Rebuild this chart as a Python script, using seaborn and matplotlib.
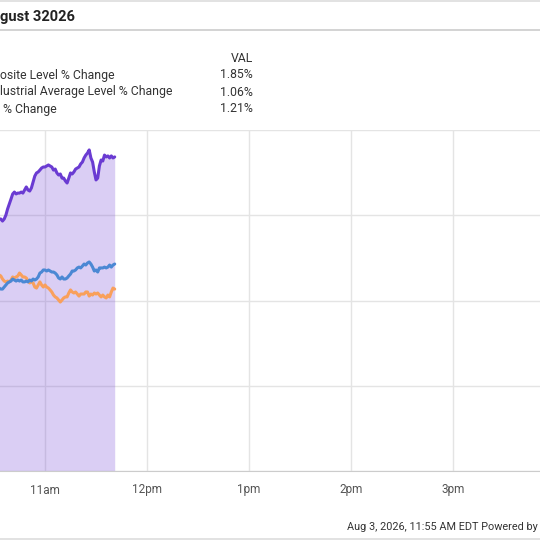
import pandas as pd
import seaborn as sns
import matplotlib.pyplot as plt
from matplotlib.lines import Line2D

# minutes since the 9:30 open, one reading per minute (10:33 .. 11:41)
minutes = list(range(63, 132))

composite = [1.478,
             1.478, 1.466, 1.478, 1.501, 1.537, 1.566, 1.595, 1.625, 1.636, 1.625,
             1.630, 1.630, 1.636, 1.630, 1.648, 1.666, 1.648, 1.642, 1.660, 1.695,
             1.730, 1.748, 1.754, 1.765, 1.777, 1.783, 1.783, 1.789, 1.795, 1.789,
             1.783, 1.765, 1.771, 1.748, 1.736, 1.742, 1.718, 1.718, 1.701, 1.689,
             1.718, 1.748, 1.742, 1.754, 1.771, 1.777, 1.783, 1.801, 1.812, 1.836,
             1.853, 1.865, 1.883, 1.836, 1.812, 1.754, 1.707, 1.718, 1.789, 1.824,
             1.818, 1.853, 1.842, 1.848, 1.836, 1.848, 1.836, 1.842]

sp500 = [1.073,
         1.067, 1.067, 1.079, 1.091, 1.103, 1.109, 1.114, 1.126, 1.120, 1.114,
         1.120, 1.114, 1.120, 1.109, 1.109, 1.114, 1.109, 1.120, 1.114, 1.126,
         1.120, 1.126, 1.138, 1.161, 1.167, 1.179, 1.179, 1.173, 1.179, 1.173,
         1.167, 1.167, 1.161, 1.150, 1.132, 1.126, 1.138, 1.126, 1.126, 1.132,
         1.144, 1.155, 1.173, 1.173, 1.179, 1.191, 1.196, 1.191, 1.202, 1.214,
         1.208, 1.220, 1.226, 1.214, 1.196, 1.173, 1.179, 1.167, 1.191, 1.191,
         1.191, 1.196, 1.191, 1.196, 1.208, 1.196, 1.208, 1.214]

dow = [1.150,
       1.144, 1.126, 1.114, 1.109, 1.114, 1.109, 1.120, 1.138, 1.132, 1.138,
       1.144, 1.161, 1.150, 1.138, 1.138, 1.132, 1.114, 1.103, 1.109, 1.103,
       1.079, 1.073, 1.091, 1.109, 1.091, 1.079, 1.091, 1.079, 1.073, 1.062,
       1.050, 1.032, 1.021, 1.015, 1.003, 0.991, 1.003, 1.015, 1.021, 1.021,
       1.044, 1.062, 1.050, 1.044, 1.050, 1.038, 1.026, 1.038, 1.038, 1.038,
       1.050, 1.050, 1.026, 1.038, 1.032, 1.044, 1.038, 1.044, 1.032, 1.021,
       1.032, 1.021, 1.015, 1.032, 1.021, 1.050, 1.073, 1.067]

tick_pos = [90, 150, 210, 270, 330]
tick_labels = ["11am", "12pm", "1pm", "2pm", "3pm"]

legend_names = ["osite Level % Change", "lustrial Average Level % Change", " % Change"]
legend_vals = ["1.85%", "1.06%", "1.21%"]

n = len(minutes)
df = pd.DataFrame({"minute": minutes * 3,
                   "value": composite + dow + sp500,
                   "series": ["comp"] * n + ["dow"] * n + ["sp"] * n})

sns.set_style("white")
plt.rcParams["font.family"] = ["Roboto", "DejaVu Sans"]

W = H = 540
fig = plt.figure(figsize=(5.4, 5.4), dpi=100)
# session runs 9:30 -> 4pm, the picture only shows the middle of it
ax = fig.add_axes([-108 / W, 1 - 471 / H, 663 / W, 341 / H])

ax.fill_between(minutes, composite, 0, color="#7b4fd8", alpha=0.28, lw=0, zorder=1)
sns.lineplot(data=df, x="minute", y="value", hue="series",
             palette={"comp": "#6a3bd2", "dow": "#f9a05c", "sp": "#4b88d4"},
             hue_order=["dow", "sp", "comp"], linewidth=2.2, legend=False, ax=ax, zorder=3)

ax.set_xlim(0, 390)
ax.set_ylim(0, 2.0)
ax.set_xticks(tick_pos)
ax.set_xticklabels(tick_labels, color="#555555", fontsize=8.5)
ax.set_yticks([0, 0.5, 1.0, 1.5, 2.0])
ax.set_yticklabels([])
ax.tick_params(length=0, pad=9)
ax.grid(True, color="#e4e4e4", lw=1, zorder=0)
ax.set_axisbelow(True)
for s in ["top", "right", "left"]:
    ax.spines[s].set_visible(False)
ax.spines["bottom"].set_color("#cccccc")
ax.set_xlabel("")
ax.set_ylabel("")

# header
fig.add_artist(Line2D([0, 1], [1 - 1 / H, 1 - 1 / H], color="#dddddd", lw=1.2))
fig.add_artist(Line2D([0, 1], [1 - 29.5 / H, 1 - 29.5 / H], color="#cccccc", lw=1.2))
fig.text(0, 1 - 17 / H, "gust 32026", fontsize=10.5, weight="bold", color="#222222", va="center")

fig.text(253 / W, 1 - 58 / H, "VAL", fontsize=8.8, color="#333333", ha="right", va="center")
for i, (name, val) in enumerate(zip(legend_names, legend_vals)):
    y = 1 - (75 + 17 * i) / H
    fig.text(0, y, name, fontsize=8.8, color="#333333", va="center")
    fig.text(253 / W, y, val, fontsize=8.8, color="#333333", ha="right", va="center")

# footer
fig.text(347 / W, 1 - 527 / H, "Aug 3, 2026, 11:55 AM EDT Powered by", fontsize=7.8,
         color="#333333", va="center")
fig.add_artist(Line2D([0, 1], [1 - 539 / H, 1 - 539 / H], color="#dddddd", lw=1.2))

fig.savefig("out.png", dpi=100)
